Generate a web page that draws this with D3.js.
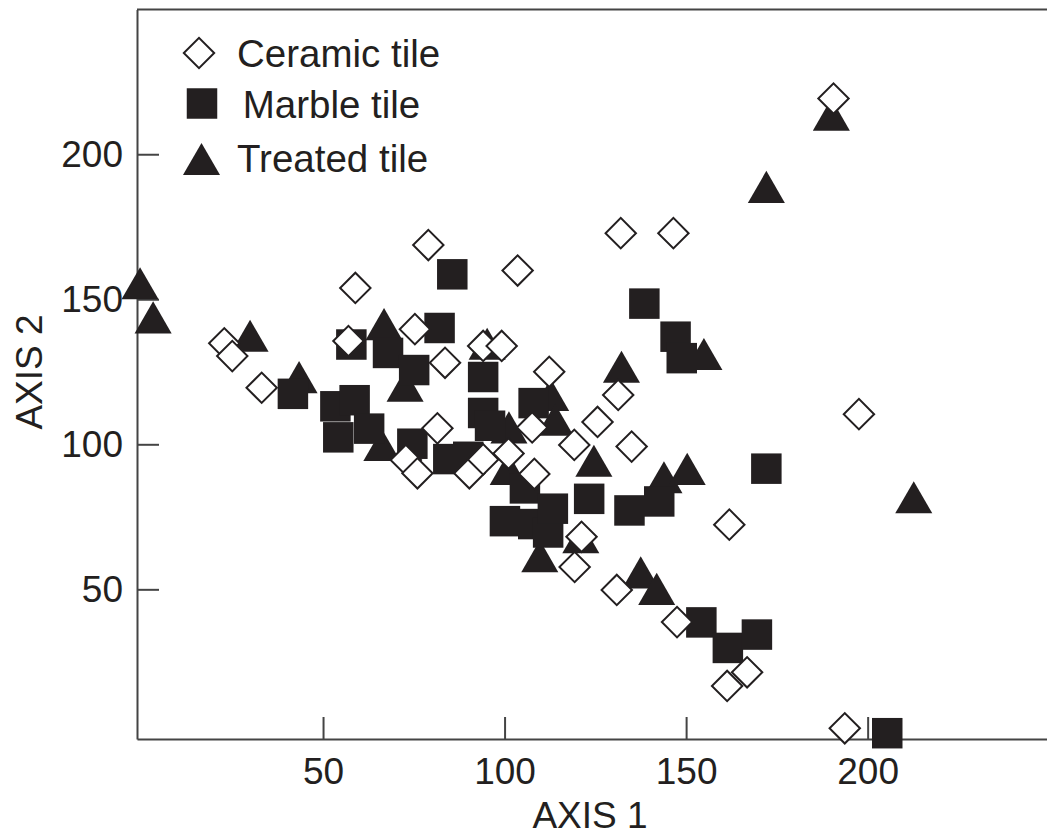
<!DOCTYPE html>
<html>
<head>
<meta charset="utf-8">
<script src="https://cdn.jsdelivr.net/npm/d3@7/dist/d3.min.js"></script>
<style>
  html, body { margin: 0; padding: 0; background: #fff; }
  svg { display: block; }
  text { font-family: "Liberation Sans", Arial, Helvetica, sans-serif; fill: #231f20; }
</style>
</head>
<body>
<svg id="chart" width="1047" height="837"></svg>
<script>
// Ordination scores of tile samples on the first two axes
const ceramicX = [190.6, 132.0, 146.5, 79.0, 103.6, 58.9, 22.8, 25.0, 33.1, 57.0, 75.3, 83.6,
  94.1, 99.2, 112.3, 131.3, 125.6, 119.2, 135.0, 107.6, 81.5, 72.8, 76.0, 90.3,
  94.1, 101.1, 108.2, 197.6, 161.9, 121.2, 119.3, 130.9, 147.5, 161.3, 166.8, 193.7];
const ceramicY = [219.2, 172.8, 172.8, 168.7, 159.9, 153.9, 134.8, 130.4, 119.5, 135.6, 139.7, 128.1,
  133.9, 133.9, 125.0, 117.0, 107.7, 99.8, 99.2, 105.8, 105.5, 94.6, 90.0, 90.0,
  94.8, 96.8, 89.8, 110.4, 72.3, 68.1, 57.7, 49.8, 38.7, 16.7, 21.4, 2.1];

const marbleX = [41.7, 53.4, 58.7, 54.2, 62.7, 57.8, 67.9, 75.1, 82.1, 85.6, 74.6, 84.5,
  90.0, 94.1, 94.1, 96.0, 108.0, 105.6, 100.1, 107.9, 112.0, 113.3, 123.3, 134.4,
  142.6, 138.5, 147.1, 148.8, 172.1, 154.2, 161.5, 169.5, 205.4];
const marbleY = [117.4, 113.1, 115.2, 102.4, 105.4, 134.4, 131.5, 125.6, 140.1, 158.6, 100.2, 94.9,
  95.7, 123.2, 110.8, 106.4, 114.2, 84.8, 73.5, 72.5, 69.6, 77.8, 81.2, 77.2,
  80.3, 148.5, 137.1, 129.7, 91.6, 38.6, 29.8, 34.4, 0.4];

const treatedX = [-0.4, 3.2, 29.9, 43.4, 66.2, 66.8, 72.6, 95.2, 101.2, 112.7, 113.9, 124.6,
  101.0, 109.7, 121.0, 132.2, 154.9, 143.9, 150.3, 137.5, 141.9, 212.7, 172.1, 190.0];
const treatedY = [153.7, 141.9, 135.6, 121.3, 97.9, 139.6, 118.4, 132.8, 104.0, 115.2, 106.6, 92.5,
  89.7, 59.6, 66.1, 124.9, 129.3, 86.8, 89.7, 54.0, 48.3, 79.9, 186.9, 211.8];

const seriesNames = ["Ceramic tile", "Marble tile", "Treated tile"];
const xTicks = [50, 100, 150, 200];
const yTicks = [50, 100, 150, 200];
const xTitle = "AXIS 1";
const yTitle = "AXIS 2";

const ink = "#231f20";
const axisColor = "#444";

const svg = d3.select("#chart");

const x = d3.scaleLinear().domain([-1.24, 249.4]).range([137, 1047]);
const y = d3.scaleLinear().domain([-1.6, 249.9]).range([739, 9.5]);

// Marker shapes
const squarePath = d3.symbol().type(d3.symbolSquare).size(930)();
const diamondPath = d3.symbol().type(d3.symbolSquare).size(462)();
const trianglePath = d3.symbol().type(d3.symbolTriangle).size(595)();

// Frame: top rule
svg.append("line")
  .attr("x1", 137).attr("x2", 1047)
  .attr("y1", 9.5).attr("y2", 9.5)
  .attr("stroke", axisColor).attr("stroke-width", 2);

// Bottom axis with inward ticks
const gx = svg.append("g")
  .attr("transform", "translate(0,739)")
  .call(d3.axisBottom(x).tickValues(xTicks).tickSize(-22).tickSizeOuter(0).tickPadding(18.5));

// Left axis with inward ticks
const gy = svg.append("g")
  .attr("transform", "translate(137,0)")
  .call(d3.axisLeft(y).tickValues(yTicks).tickSize(-22).tickSizeOuter(0).tickPadding(14));

[gx, gy].forEach(g => {
  g.select(".domain").attr("stroke", axisColor).attr("stroke-width", 2);
  g.selectAll(".tick line").attr("stroke", axisColor).attr("stroke-width", 2);
  g.selectAll(".tick text")
    .attr("fill", ink)
    .style("font-size", "37px")
    .style("font-family", "'Liberation Sans', Arial, sans-serif");
});

// Axis titles
svg.append("text")
  .attr("x", 590).attr("y", 828)
  .attr("text-anchor", "middle")
  .style("font-size", "37px")
  .text(xTitle);

svg.append("text")
  .attr("transform", "translate(41.5,372) rotate(-90)")
  .attr("text-anchor", "middle")
  .style("font-size", "37px")
  .text(yTitle);

// Data layers: triangles, then squares, then open diamonds on top
const treated = treatedX.map((v, i) => ({ x: v, y: treatedY[i] }));
const marble = marbleX.map((v, i) => ({ x: v, y: marbleY[i] }));
const ceramic = ceramicX.map((v, i) => ({ x: v, y: ceramicY[i] }));

svg.append("g").selectAll("path").data(treated).join("path")
  .attr("d", trianglePath)
  .attr("transform", d => `translate(${x(d.x)},${y(d.y)})`)
  .attr("fill", ink);

svg.append("g").selectAll("path").data(marble).join("path")
  .attr("d", squarePath)
  .attr("transform", d => `translate(${x(d.x)},${y(d.y)})`)
  .attr("fill", ink);

svg.append("g").selectAll("path").data(ceramic).join("path")
  .attr("d", diamondPath)
  .attr("transform", d => `translate(${x(d.x)},${y(d.y)}) rotate(45)`)
  .attr("fill", "#fff")
  .attr("stroke", ink)
  .attr("stroke-width", 2);

// Legend
const legend = svg.append("g");
legend.append("path")
  .attr("d", diamondPath)
  .attr("transform", "translate(199,53) rotate(45)")
  .attr("fill", "#fff").attr("stroke", ink).attr("stroke-width", 2);
legend.append("path")
  .attr("d", squarePath)
  .attr("transform", "translate(202,103.5)")
  .attr("fill", ink);
legend.append("path")
  .attr("d", trianglePath)
  .attr("transform", "translate(201.5,164.3)")
  .attr("fill", ink);

const legendText = [
  { t: seriesNames[0], x: 237, y: 66.7 },
  { t: seriesNames[1], x: 242.7, y: 118 },
  { t: seriesNames[2], x: 237, y: 171.7 }
];
legend.selectAll("text").data(legendText).join("text")
  .attr("x", d => d.x).attr("y", d => d.y)
  .style("font-size", "38.5px")
  .text(d => d.t);
</script>
</body>
</html>
